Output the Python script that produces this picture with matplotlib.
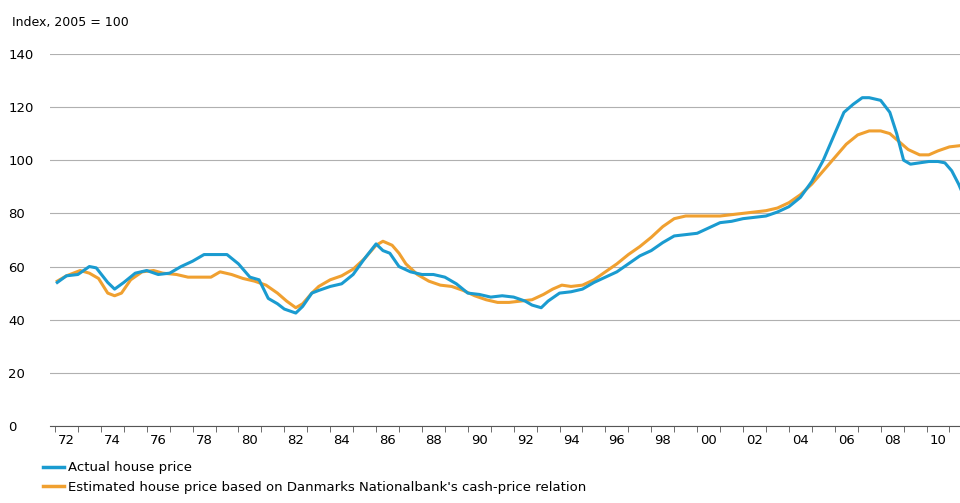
import matplotlib.pyplot as plt
from matplotlib.lines import Line2D

# years (label "72" sits mid-year)
actual_x = [71.6, 72, 72.5, 73, 73.3, 73.8, 74.1, 74.5, 75, 75.5, 76, 76.5, 77, 77.5, 78, 78.5, 79, 79.5,
            80, 80.4, 80.8, 81.2, 81.5, 82, 82.3, 82.7, 83, 83.5, 84, 84.5, 85, 85.5, 85.8, 86.1, 86.5, 87,
            87.5, 88, 88.5, 89, 89.5, 90, 90.5, 91, 91.5, 92, 92.3, 92.7, 93, 93.5, 94, 94.5, 95, 95.5, 96,
            96.5, 97, 97.5, 98, 98.5, 99, 99.5, 100, 100.5, 101, 101.5, 102, 102.5, 103, 103.5, 104, 104.5,
            105, 105.5, 105.9, 106.3, 106.7, 107, 107.5, 107.9, 108.2, 108.5, 108.8, 109.2, 109.6, 110,
            110.3, 110.6, 110.9, 111]
actual_y = [54, 56.5, 57, 60, 59.5, 54, 51.5, 54, 57.5, 58.5, 57, 57.5, 60, 62, 64.5, 64.5, 64.5, 61,
            56, 55, 48, 46, 44, 42.5, 45, 50, 51, 52.5, 53.5, 57, 63, 68.5, 66, 65, 60, 58,
            57, 57, 56, 53.5, 50, 49.5, 48.5, 49, 48.5, 47, 45.5, 44.5, 47, 50, 50.5, 51.5, 54, 56, 58,
            61, 64, 66, 69, 71.5, 72, 72.5, 74.5, 76.5, 77, 78, 78.5, 79, 80.5, 82.5, 86, 92,
            100, 110, 118, 121, 123.5, 123.5, 122.5, 118, 110, 100, 98.5, 99, 99.5, 99.5,
            99, 96, 91, 89]
est_x = [71.6, 72, 72.6, 73, 73.4, 73.8, 74.1, 74.4, 74.8, 75.3, 75.8, 76.2, 76.8, 77.3, 78, 78.3, 78.7,
         79.2, 79.7, 80.2, 80.7, 81.2, 81.6, 82, 82.3, 82.7, 83, 83.5, 84, 84.5, 85, 85.5, 85.8, 86.2,
         86.5, 86.8, 87.3, 87.8, 88.3, 88.8, 89.3, 89.8, 90.3, 90.8, 91.3, 91.8, 92.3, 92.8, 93.2, 93.6,
         94, 94.5, 95, 95.5, 96, 96.5, 97, 97.5, 98, 98.5, 99, 99.5, 100, 100.5, 101, 101.5, 102, 102.5,
         103, 103.5, 104, 104.5, 105, 105.5, 106, 106.5, 107, 107.5, 107.9, 108.3, 108.7, 109.2, 109.6,
         110, 110.5, 111]
est_y = [54.5, 56.5, 58.5, 57.5, 55.5, 50, 49, 50, 55, 58, 58.5, 57.5, 57, 56, 56, 56, 58,
         57, 55.5, 54.5, 53, 50, 47, 44.5, 46, 50, 52.5, 55, 56.5, 59, 63, 68, 69.5, 68,
         65, 61, 57, 54.5, 53, 52.5, 51, 49, 47.5, 46.5, 46.5, 47, 47.5, 49.5, 51.5, 53,
         52.5, 53, 55, 58, 61, 64.5, 67.5, 71, 75, 78, 79, 79, 79, 79, 79.5, 80, 80.5, 81,
         82, 84, 87, 91, 96, 101, 106, 109.5, 111, 111, 110, 107, 104, 102, 102,
         103.5, 105, 105.5]
tick_years = list(range(72, 111, 2))
tick_labels = [f"{y % 100:02d}" for y in tick_years]

blue = "#1a9bd0"
orange = "#f0a030"

fig = plt.figure(figsize=(9.6, 5.03), dpi=100)
ax = fig.add_axes([0.052, 0.153, 0.948, 0.74])

ax.plot([x + 0.5 for x in actual_x], actual_y, color=blue, lw=2.2, zorder=3)
ax.plot([x + 0.5 for x in est_x], est_y, color=orange, lw=2.2, zorder=2)

ax.set_xlim(71.78, 111.46)
ax.set_ylim(0, 140)
ax.set_yticks(range(0, 141, 20))
ax.grid(axis="y", color="#b0b0b0", lw=0.8)
ax.set_axisbelow(True)
ax.set_xticks([y + 0.5 for y in tick_years])
ax.set_xticklabels(tick_labels)
ax.set_xticks(range(72, 112), minor=True)
ax.tick_params(axis="x", which="major", length=0, labelsize=9.5, pad=6)
ax.tick_params(axis="x", which="minor", length=4, color="#555555")
ax.tick_params(axis="y", length=0, labelsize=9.5, pad=30)
for lab in ax.get_yticklabels():
    lab.set_horizontalalignment("left")
for s in ["top", "right", "left"]:
    ax.spines[s].set_visible(False)
ax.spines["bottom"].set_color("#555555")

fig.text(0.013, 0.955, "Index, 2005 = 100", fontsize=9, va="center")

handles = [Line2D([], [], color=blue, lw=2.5), Line2D([], [], color=orange, lw=2.5)]
fig.legend(handles, ["Actual house price",
                     "Estimated house price based on Danmarks Nationalbank's cash-price relation"],
           loc="lower left", bbox_to_anchor=(0.035, 0.0), frameon=False, fontsize=9.5,
           handlelength=1.6, handletextpad=0.3, labelspacing=0.5, borderpad=0.2)

fig.savefig("out.png", dpi=100)
